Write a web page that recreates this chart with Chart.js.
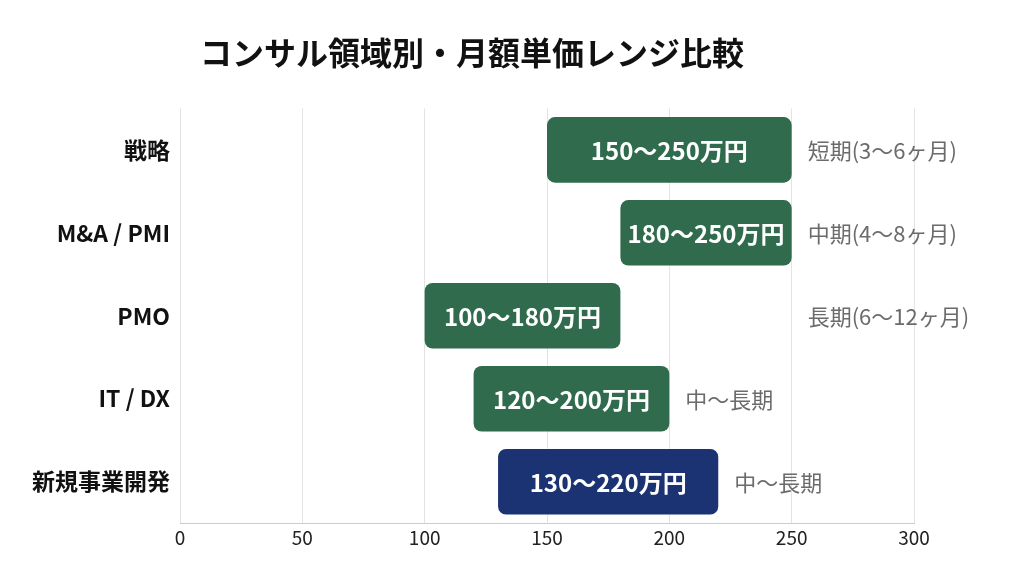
<!DOCTYPE html>
<html><head><meta charset="utf-8">
<script src="https://cdn.jsdelivr.net/npm/chart.js@4"></script>
<style>html,body{margin:0;background:#fff}#w{width:1024px;height:572px}</style>
</head><body><div id="w"><canvas id="c"></canvas></div>
<script>
const categories = ["戦略","M&A / PMI","PMO","IT / DX","新規事業開発"];
const minValues = [150,180,100,120,130];
const maxValues = [250,250,180,200,220];
const barLabels = ["150〜250万円","180〜250万円","100〜180万円","120〜200万円","130〜220万円"];
const durations = ["短期(3〜6ヶ月)","中期(4〜8ヶ月)","長期(6〜12ヶ月)","中〜長期","中〜長期"];
const durationAnchor = [250,250,250,200,220];
const colors = ["#2f6b4c","#2f6b4c","#2f6b4c","#2f6b4c","#1b3373"];
const FONT = "'Noto Sans CJK JP','Noto Sans',sans-serif";

const labelPlugin = {
  id:'lbl',
  afterDatasetsDraw(chart){
    const {ctx, scales:{x}} = chart;
    const meta = chart.getDatasetMeta(0);
    ctx.save();
    meta.data.forEach((b,i)=>{
      ctx.textBaseline='middle';
      ctx.textAlign='center';
      ctx.fillStyle='#fff';
      ctx.font="bold 24px "+FONT;
      ctx.fillText(barLabels[i], (b.x+b.base)/2, b.y+1);
      ctx.textAlign='left';
      ctx.fillStyle='#6b6b6b';
      ctx.font="22px "+FONT;
      ctx.fillText(durations[i], x.getPixelForValue(durationAnchor[i])+16, b.y+1);
    });
    ctx.restore();
  }
};

new Chart(document.getElementById('c'),{
  type:'bar',
  data:{labels:categories,datasets:[{
    data:minValues.map((v,i)=>[v,maxValues[i]]),
    backgroundColor:colors,borderRadius:8,borderSkipped:false,
    barPercentage:0.79,categoryPercentage:1.0
  }]},
  options:{
    indexAxis:'y',responsive:true,maintainAspectRatio:false,animation:false,
    layout:{padding:{left:30,right:110,top:10,bottom:20}},
    plugins:{legend:{display:false},tooltip:{enabled:false},
      title:{display:true,text:"コンサル領域別・月額単価レンジ比較",
        font:{family:FONT,size:32,weight:'bold'},color:'#111',padding:{top:24,bottom:36}}},
    scales:{
      x:{min:0,max:300,ticks:{stepSize:50,color:'#222',font:{family:FONT,size:19}},
        grid:{color:'#e3e3e3',drawTicks:false},border:{display:true,color:'#ccc'}},
      y:{ticks:{color:'#111',padding:2,font:{family:FONT,size:23,weight:'bold'}},
        grid:{display:false},border:{display:false}}
    }
  },
  plugins:[labelPlugin]
});
</script></body></html>
